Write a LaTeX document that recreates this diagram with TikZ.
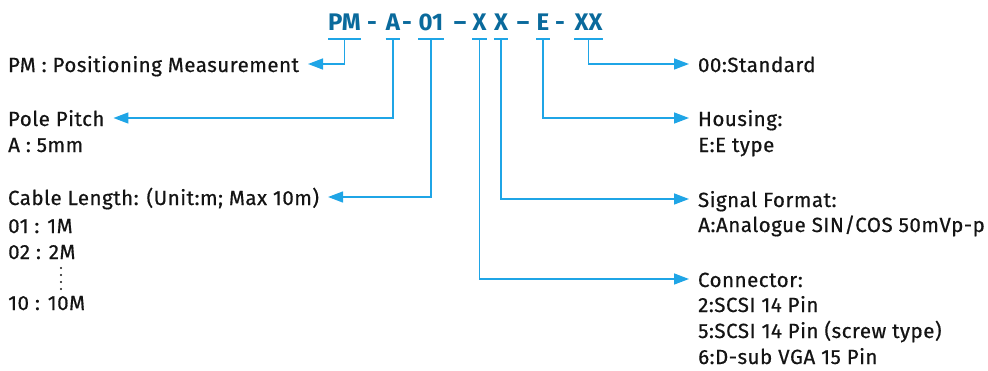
\documentclass[tikz,border=0pt]{standalone}
\usepackage{fontspec}
\setmainfont{Fira Sans}
\newfontfamily\lblfont{Fira Sans}[LetterSpace=2.5,FakeBold=0.6]
\usetikzlibrary{arrows.meta}
\definecolor{codeblue}{HTML}{0A6A9C}
\definecolor{lineblue}{HTML}{1FA5E6}
\definecolor{txt}{HTML}{141414}
\begin{document}
\begin{tikzpicture}[x=1pt,y=-1pt,
  code/.style={inner sep=0pt, anchor=base, font=\fontsize{24}{24}\selectfont\bfseries, text=codeblue},
  ul/.style={draw=lineblue, line width=1.6pt},
  conn/.style={draw=lineblue, line width=1.5pt, -{Triangle[length=15pt,width=11pt]}},
  lbl/.style={inner sep=0pt, anchor=base west, font=\lblfont\fontsize{20.5}{26}\selectfont, text=txt},
  head/.style={lbl, text height=18pt, text depth=2pt, outer xsep=9pt},
  dot/.style={fill=txt, draw=none, circle, inner sep=0pt, minimum size=2.2pt}]
\useasboundingbox (0,0) rectangle (988,370);
% code
\node[code] (pm) at (344.5,30) {PM};
\node[code] (d1) at (372,30) {-};
\node[code] (a) at (393,30) {A};
\node[code] (d2) at (407,30) {-};
\node[code] (n01) at (431,30) {01};
\node[code] (d3) at (460,30) {–};
\node[code] (x1) at (479.5,30) {X};
\node[code] (x2) at (501,30) {X};
\node[code] (d4) at (523,30) {–};
\node[code] (e) at (543,30) {E};
\node[code] (d5) at (560,30) {-};
\node[code] (xx) at (588.5,30) {XX};
\foreach \n in {pm,a,n01,x1,x2,e,xx}{
  \draw[ul] (\n.west |- 0,39) -- (\n.east |- 0,39);
}
% left labels
\node[head] (lpm) at (-1,72) {PM : Positioning Measurement};
\node[head] (lpole) at (-1,126) {Pole Pitch};
\node[lbl] (lpole1) at (8,152) {A : 5mm};
\node[head] (lcab) at (-1,205) {Cable Length: (Unit:m; Max 10m)};
\node[lbl] (lcab1) at (8,233) {01 : 1M};
\node[lbl] (lcab2) at (8,259) {02 : 2M};
\foreach \y in {268,275,282,289} \node[dot] at (61,\y) {};
\node[lbl] (lcab3) at (8,310) {10 : 10M};
% right labels
\node[head] (rstd) at (689,72) {00:Standard};
\node[head] (rhou) at (689,126) {Housing:};
\node[lbl] (rhou1) at (698,152) {E:E type};
\node[head] (rsig) at (689,207) {Signal Format:};
\node[lbl] (rsig1) at (698,232) {A:Analogue SIN/COS 50mVp-p};
\node[head] (rcon) at (689,287) {Connector:};
\node[lbl] (rcon1) at (698,312) {2:SCSI 14 Pin};
\node[lbl] (rcon2) at (698,338) {5:SCSI 14 Pin (screw type)};
\node[lbl] (rcon3) at (698,364) {6:D-sub VGA 15 Pin};
% connectors
\draw[conn] (pm.south |- 0,39) |- (lpm.east);
\draw[conn] (a.south |- 0,39) |- (lpole.east);
\draw[conn] (n01.south |- 0,39) |- (lcab.east);
\draw[conn] (x1.south |- 0,39) |- (rcon.west);
\draw[conn] (x2.south |- 0,39) |- (rsig.west);
\draw[conn] (e.south |- 0,39) |- (rhou.west);
\draw[conn] (xx.south |- 0,39) |- (rstd.west);
\end{tikzpicture}
\end{document}
